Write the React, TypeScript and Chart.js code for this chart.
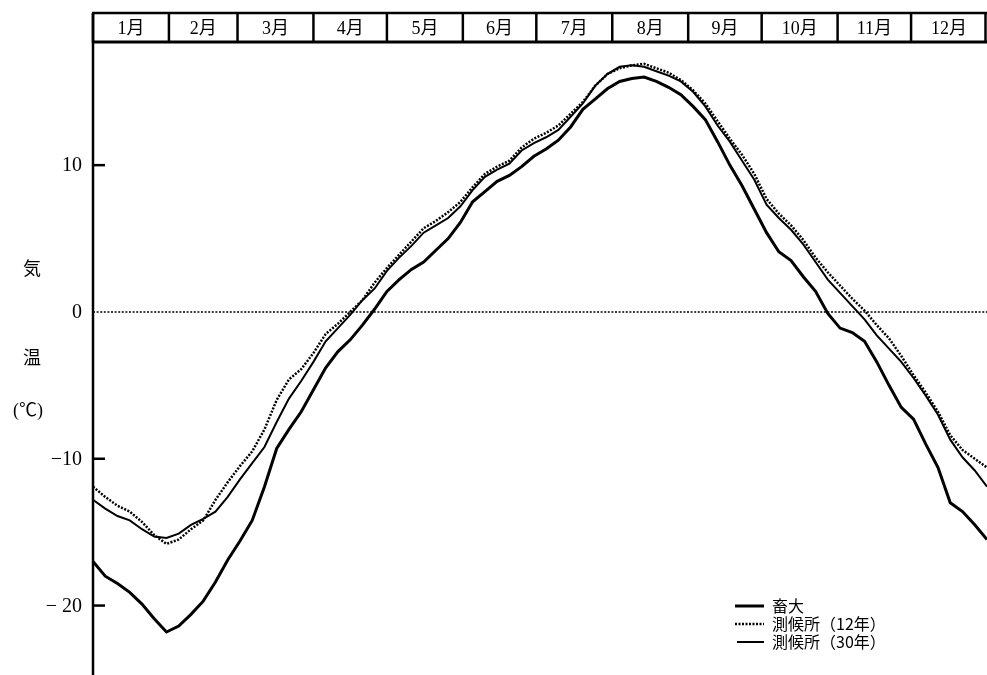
import { useEffect, useRef } from 'react';
import { Chart, registerables } from 'chart.js';
Chart.register(...registerables);

const days = [
  0, 5, 10, 15, 20, 25, 30, 35, 40, 45,
  50, 55, 60, 65, 70, 75, 80, 85, 90, 95,
  100, 105, 110, 115, 120, 125, 130, 135, 140, 145,
  150, 155, 160, 165, 170, 175, 180, 185, 190, 195,
  200, 205, 210, 215, 220, 225, 230, 235, 240, 245,
  250, 255, 260, 265, 270, 275, 280, 285, 290, 295,
  300, 305, 310, 315, 320, 325, 330, 335, 340, 345,
  350, 355, 360, 365,
];

const chikudai = [
  -17.0, -18.0, -18.5, -19.1, -19.9, -20.9, -21.8, -21.4, -20.6, -19.7,
  -18.4, -16.9, -15.6, -14.2, -11.9, -9.3, -8.0, -6.8, -5.3, -3.8,
  -2.7, -1.9, -0.9, 0.2, 1.4, 2.2, 2.9, 3.4, 4.2, 5.0,
  6.1, 7.5, 8.2, 8.9, 9.3, 9.9, 10.6, 11.1, 11.7, 12.6,
  13.8, 14.5, 15.2, 15.7, 15.9, 16.0, 15.7, 15.3, 14.8, 14.0,
  13.1, 11.6, 10.0, 8.6, 7.0, 5.4, 4.1, 3.5, 2.4, 1.4,
  -0.1, -1.1, -1.4, -2.0, -3.4, -5.0, -6.5, -7.3, -9.0, -10.6,
  -13.0, -13.6, -14.5, -15.5,
];

const sokko12 = [
  -11.9, -12.6, -13.2, -13.6, -14.3, -15.2, -15.8, -15.5, -14.8, -14.2,
  -12.8, -11.6, -10.5, -9.5, -8.0, -6.0, -4.6, -3.9, -2.8, -1.5,
  -0.8, 0.0, 0.8, 2.0, 3.0, 3.9, 4.8, 5.7, 6.2, 6.8,
  7.5, 8.5, 9.4, 9.9, 10.3, 11.2, 11.8, 12.2, 12.7, 13.5,
  14.3, 15.4, 16.2, 16.6, 16.8, 16.9, 16.6, 16.3, 15.8, 15.1,
  14.2, 13.0, 11.8, 10.7, 9.4, 7.7, 6.7, 5.9, 4.9, 3.7,
  2.7, 1.8, 0.9, 0.1, -0.9, -1.8, -3.0, -4.3, -5.5, -6.8,
  -8.4, -9.4, -10.0, -10.6,
];

const sokko30 = [
  -12.8, -13.4, -13.9, -14.2, -14.8, -15.3, -15.4, -15.1, -14.5, -14.1,
  -13.6, -12.6, -11.4, -10.3, -9.2, -7.5, -5.9, -4.7, -3.4, -2.0,
  -1.1, -0.2, 0.8, 1.6, 2.8, 3.7, 4.5, 5.4, 5.9, 6.4,
  7.2, 8.3, 9.2, 9.7, 10.1, 11.0, 11.5, 11.9, 12.4, 13.3,
  14.2, 15.4, 16.2, 16.7, 16.8, 16.7, 16.4, 16.1, 15.7, 15.0,
  14.0, 12.7, 11.6, 10.3, 9.0, 7.3, 6.4, 5.6, 4.6, 3.4,
  2.2, 1.3, 0.4, -0.5, -1.6, -2.5, -3.4, -4.5, -5.7, -7.0,
  -8.7, -9.9, -10.8, -11.9,
];

const monthLabels = ['1月', '2月', '3月', '4月', '5月', '6月', '7月', '8月', '9月', '10月', '11月', '12月'];
const monthStarts = [0, 31, 59, 90, 120, 151, 181, 212, 243, 273, 304, 334, 365];
const yTicks = [10, 0, -10, -20];
const yTickLabels = ['10', '0', '−10', '− 20'];
const seriesLabels = ['畜大', '測候所（12年）', '測候所（30年）'];
const yTitle = ['気', '温', '(℃)'];

const SERIF = '"Liberation Serif", "Noto Sans CJK JP", serif';
const CJK = '"Noto Sans CJK JP", "Liberation Serif", sans-serif';

const decoPlugin = {
  id: 'deco',
  beforeDatasetsDraw(chart: any) {
    const { ctx, chartArea, scales } = chart;
    const y0 = scales.y.getPixelForValue(0);
    ctx.save();
    ctx.strokeStyle = '#000';
    ctx.lineWidth = 1.6;
    ctx.setLineDash([2, 1.6]);
    ctx.beginPath();
    ctx.moveTo(chartArea.left, y0);
    ctx.lineTo(chartArea.right, y0);
    ctx.stroke();
    ctx.restore();
  },
  afterDraw(chart: any) {
    const { ctx, chartArea, scales } = chart;
    const xs = scales.x;
    const ys = scales.y;
    ctx.save();
    ctx.strokeStyle = '#000';
    ctx.fillStyle = '#000';
    // y axis line
    ctx.lineWidth = 2.5;
    ctx.beginPath();
    ctx.moveTo(chartArea.left, 13);
    ctx.lineTo(chartArea.left, chartArea.bottom);
    ctx.stroke();
    // month boxes
    const top = 13;
    const bot = chartArea.top;
    ctx.lineWidth = 2.5;
    ctx.beginPath();
    ctx.moveTo(chartArea.left - 1, top);
    ctx.lineTo(chartArea.right, top);
    ctx.stroke();
    ctx.lineWidth = 3;
    ctx.beginPath();
    ctx.moveTo(chartArea.left - 1, bot - 1);
    ctx.lineTo(chartArea.right, bot - 1);
    ctx.stroke();
    ctx.lineWidth = 2.5;
    monthStarts.forEach((d) => {
      const x = Math.min(xs.getPixelForValue(d), chartArea.right - 1.5);
      ctx.beginPath();
      ctx.moveTo(x, top);
      ctx.lineTo(x, bot);
      ctx.stroke();
    });
    ctx.font = '18px ' + SERIF;
    ctx.textAlign = 'center';
    ctx.textBaseline = 'middle';
    monthLabels.forEach((lab, i) => {
      const xa = xs.getPixelForValue(monthStarts[i]);
      const xb = xs.getPixelForValue(monthStarts[i + 1]);
      ctx.fillText(lab, (xa + xb) / 2, (top + bot) / 2 + 1);
    });
    // tick marks inside + tick labels
    ctx.lineWidth = 2.5;
    ctx.font = '20px ' + SERIF;
    ctx.textAlign = 'right';
    ctx.textBaseline = 'middle';
    yTicks.forEach((v, i) => {
      const y = ys.getPixelForValue(v);
      if (v !== 0) {
        ctx.beginPath();
        ctx.moveTo(chartArea.left, y);
        ctx.lineTo(chartArea.left + 12, y);
        ctx.stroke();
      }
      ctx.fillText(yTickLabels[i], chartArea.left - 11, y + 1);
    });
    // y title
    ctx.font = '18px ' + CJK;
    ctx.textAlign = 'center';
    ctx.fillText(yTitle[0], 32, 268);
    ctx.fillText(yTitle[1], 32, 357);
    ctx.font = '18px ' + SERIF;
    ctx.fillText(yTitle[2], 28, 411);
    // legend
    const lx0 = 735;
    const lx1 = 764;
    const tx = 772;
    const rows = [606, 624, 642];
    ctx.textAlign = 'left';
    ctx.textBaseline = 'middle';
    ctx.font = '16px ' + CJK;
    rows.forEach((ry, i) => {
      ctx.beginPath();
      if (i === 1) {
        ctx.setLineDash([2, 1.5]);
        ctx.lineWidth = 2.5;
      } else {
        ctx.setLineDash([]);
        ctx.lineWidth = i === 0 ? 3 : 2;
      }
      ctx.moveTo(i === 2 ? lx0 + 2 : lx0, ry);
      ctx.lineTo(lx1, ry);
      ctx.stroke();
      ctx.setLineDash([]);
      ctx.fillText(seriesLabels[i], tx, ry);
    });
    ctx.restore();
  },
};

export default function App() {
  const ref = useRef<HTMLCanvasElement | null>(null);
  useEffect(() => {
    if (!ref.current) return;
    const mk = (vals: number[]) => days.map((d, i) => ({ x: d, y: vals[i] }));
    const chart = new Chart(ref.current, {
      type: 'line',
      data: {
        datasets: [
          {
            label: seriesLabels[0],
            data: mk(chikudai),
            borderColor: '#000',
            borderWidth: 3,
            pointRadius: 0,
            tension: 0,
          },
          {
            label: seriesLabels[1],
            data: mk(sokko12),
            borderColor: '#000',
            borderWidth: 2.5,
            borderDash: [2, 1.5],
            pointRadius: 0,
            tension: 0,
          },
          {
            label: seriesLabels[2],
            data: mk(sokko30),
            borderColor: '#000',
            borderWidth: 2,
            pointRadius: 0,
            tension: 0,
          },
        ],
      },
      options: {
        animation: false,
        responsive: false,
        devicePixelRatio: 1,
        layout: { padding: { top: 43, right: 0, bottom: 0, left: 0 } },
        plugins: { legend: { display: false }, tooltip: { enabled: false } },
        scales: {
          x: { type: 'linear', min: 0, max: 365, display: false },
          y: {
            type: 'linear',
            min: -24.73,
            max: 18.32,
            afterBuildTicks: (scale: any) => {
              scale.ticks = yTicks.map((v) => ({ value: v }));
            },
            afterFit: (scale: any) => {
              scale.width = 93;
            },
            grid: { display: false },
            border: { display: false },
            ticks: { display: false },
          },
        },
      },
      plugins: [decoPlugin],
    } as any);
    return () => chart.destroy();
  }, []);
  return (
    <div style={{ position: 'absolute', left: 0, top: 0, width: 987, height: 675, background: '#fff' }}>
      <canvas ref={ref} width={987} height={675} />
    </div>
  );
}
